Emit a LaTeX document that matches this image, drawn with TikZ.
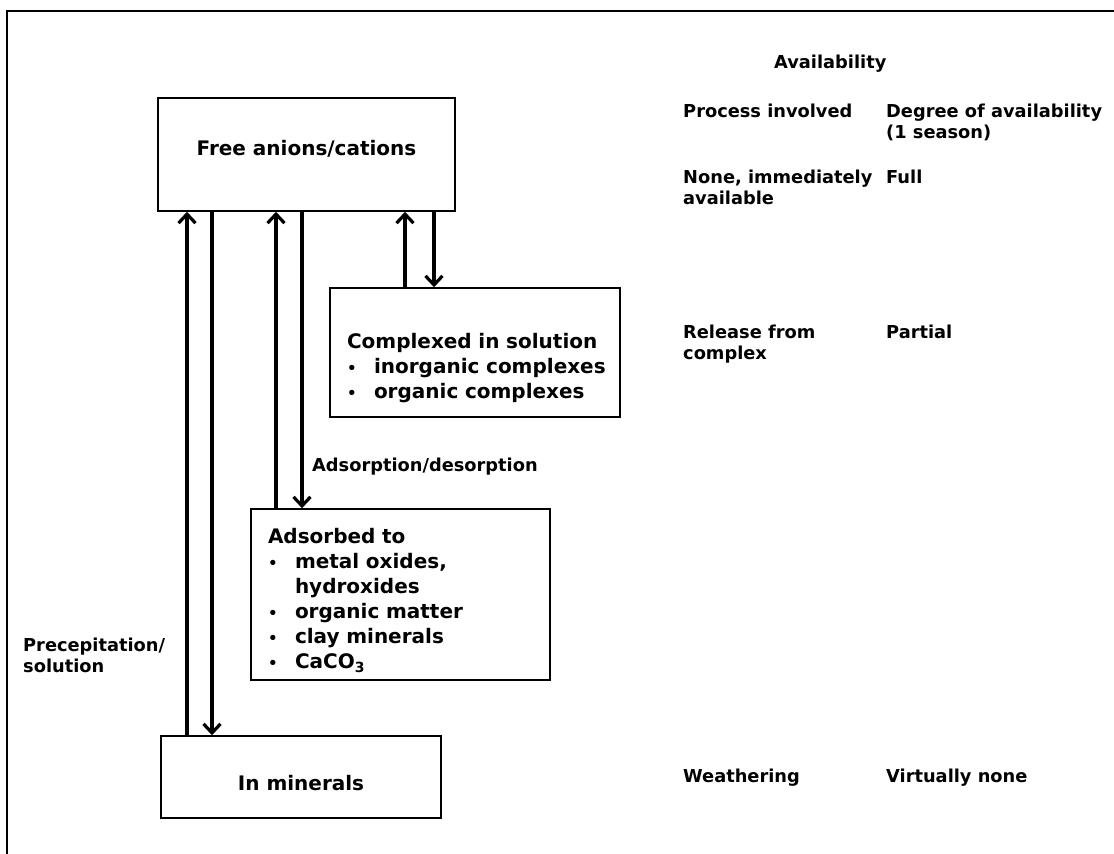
\documentclass[tikz,border=0pt]{standalone}
\usepackage{fontspec}
\setmainfont{DejaVu Sans}
\usetikzlibrary{arrows.meta}
\newcommand{\bul}[1]{\mbox{\makebox[27pt][l]{\fontsize{15}{15}\selectfont\textbullet}#1}}
\newcommand{\vmove}[2]{\raisebox{#1}[\height][\depth]{#2}}
\tikzset{
  box/.style={draw, line width=1.6pt, inner sep=0pt, font=\fontsize{20}{25}\selectfont\bfseries},
  lbl/.style={inner sep=0pt, anchor=base west, align=left, font=\fontsize{17.8}{21}\selectfont\bfseries},
  flow/.style={line width=3.2pt, -{Straight Barb[length=9pt,width=17pt]}}
}
\begin{document}
\begin{tikzpicture}[x=1pt, y=-1pt]
  \useasboundingbox (0,0) rectangle (1114,854);
  \draw[line width=1.6pt] (1114,11) -- (7,11) -- (7,854);

  \node[box, minimum width=297pt, minimum height=113pt] (free) at (306.5,154.5) {\vmove{6pt}{Free anions/cations}};
  \node[box, minimum width=290pt, minimum height=129pt, text width=256pt, align=left] (cplx) at (475,352.5)
    {\rule{0pt}{46pt}Complexed in solution\\ \bul{inorganic complexes}\\ \bul{organic complexes}};
  \node[box, minimum width=299pt, minimum height=171pt, text width=265pt, align=left] (adsb) at (400.5,594.5)
    {\rule{0pt}{27pt}Adsorbed to\\ \bul{metal oxides,}\\ \hspace*{27pt}hydroxides\\ \bul{organic matter}\\ \bul{clay minerals}\\ \bul{CaCO\textsubscript{3}}};
  \node[box, minimum width=280pt, minimum height=82pt] (minr) at (301,777) {\vmove{-6pt}{In minerals}};

  \draw[flow] (187,0 |- minr.north) -- (187,0 |- free.south);
  \draw[flow] (212,0 |- free.south) -- (212,0 |- minr.north);
  \draw[flow] (276,0 |- adsb.north) -- (276,0 |- free.south);
  \draw[flow] (302,0 |- free.south) -- (302,0 |- adsb.north);
  \draw[flow] (405,0 |- cplx.north) -- (405,0 |- free.south);
  \draw[flow] (434,0 |- free.south) -- (434,0 |- cplx.north);

  \node[lbl] (adlbl) at (312,471) {Adsorption/desorption};
  \node[lbl] (prlbl) at (23,672) {Precepitation/\\solution};

  \node[lbl] (avail) at (774,68) {Availability};
  \node[lbl] (proc) at (683,117) {Process involved};
  \node[lbl] (degr) at (886,138) {Degree of availability\\(1 season)};
  \node[lbl] (proc1) at (683,204) {None, immediately\\available};
  \node[lbl] (degr1) at (886,183) {Full};
  \node[lbl] (proc2) at (683,359) {Release from\\complex};
  \node[lbl] (degr2) at (886,338) {Partial};
  \node[lbl] (proc3) at (683,782) {Weathering};
  \node[lbl] (degr3) at (886,782) {Virtually none};
\end{tikzpicture}
\end{document}
